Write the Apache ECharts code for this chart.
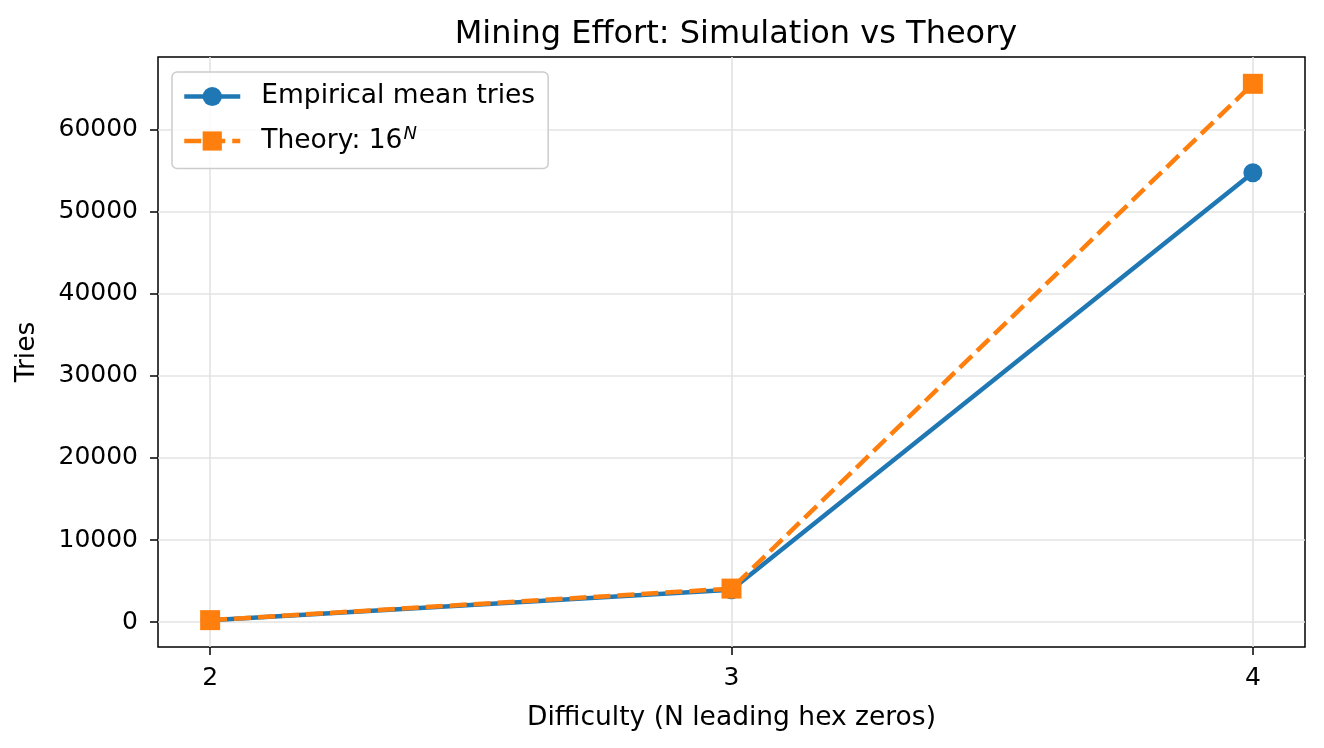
<!DOCTYPE html>
<html><head><meta charset="utf-8">
<script src="https://cdn.jsdelivr.net/npm/echarts@6/dist/echarts.min.js"></script>
<style>html,body{margin:0;padding:0;background:#fff}#c{width:1324px;height:748px}</style>
</head><body><div id="c"></div>
<script>
const difficulty = [2, 3, 4];
const empirical = [250, 3950, 54720];
const theory = [256, 4096, 65536];
const xTicks = [2, 3, 4];
const yTicks = [0, 10000, 20000, 30000, 40000, 50000, 60000];

const chart = echarts.init(document.getElementById('c'), null, {renderer: 'canvas'});
const font = 'DejaVu Sans';
chart.setOption({
  animation: false,
  backgroundColor: '#fff',
  title: {text: 'Mining Effort: Simulation vs Theory', left: 731, top: 14, textAlign: 'center',
    textStyle: {fontFamily: font, fontSize: 32, fontWeight: 'normal', color: '#000'}},
  grid: {left: 158, right: 19, top: 57, bottom: 101, show: true, borderColor: '#000', borderWidth: 1.5, containLabel: false},
  legend: {
    left: 172, top: 72, orient: 'vertical', padding: [11, 13, 14, 10], itemGap: 15,
    itemWidth: 56, itemHeight: 24,
    lineStyle: {width: 4.5},
    backgroundColor: 'rgba(255,255,255,0.8)', borderColor: '#cccccc', borderWidth: 1.5, borderRadius: 5,
    textStyle: {fontFamily: font, fontSize: 26.5, color: '#000', padding: [0, 0, 0, 16],
      rich: {sup: {fontFamily: font, fontSize: 18, fontStyle: 'italic', verticalAlign: 'top', padding: [0, 0, 14, 1]}}},
    formatter: n => n === 'Theory' ? 'Theory: 16{sup|N}' : n,
    data: ['Empirical mean tries', 'Theory']
  },
  xAxis: {
    type: 'value', min: 1.9, max: 4.1,
    name: 'Difficulty (N leading hex zeros)', nameLocation: 'middle', nameGap: 58,
    nameTextStyle: {fontFamily: font, fontSize: 26.5, color: '#000'},
    axisLine: {show: false, onZero: false},
    axisTick: {show: true, inside: false, customValues: xTicks, length: 8, lineStyle: {color: '#000', width: 1.5}},
    axisLabel: {customValues: xTicks, fontFamily: font, fontSize: 25, color: '#000', margin: 19},
    splitLine: {show: true, lineStyle: {color: '#e3e3e3', width: 1.6}}
  },
  yAxis: {
    type: 'value', min: -3014, max: 68800,
    name: 'Tries', nameLocation: 'middle', nameGap: 117, nameRotate: 90,
    nameTextStyle: {fontFamily: font, fontSize: 26.5, color: '#000'},
    axisLine: {show: false, onZero: false},
    axisTick: {show: true, inside: false, customValues: yTicks, length: 8, lineStyle: {color: '#000', width: 1.5}},
    axisLabel: {customValues: yTicks, formatter: v => String(v), fontFamily: font, fontSize: 25, color: '#000', margin: 20},
    splitLine: {show: true, lineStyle: {color: '#e3e3e3', width: 1.6}}
  },
  series: [
    {name: 'Empirical mean tries', type: 'line', data: difficulty.map((d, i) => [d, empirical[i]]),
      color: '#1f77b4', symbol: 'circle', symbolSize: 19, lineStyle: {width: 4.5, color: '#1f77b4'},
      itemStyle: {color: '#1f77b4'}, z: 2},
    {name: 'Theory', type: 'line', data: difficulty.map((d, i) => [d, theory[i]]),
      color: '#ff7f0e', symbol: 'rect', symbolSize: 20, lineStyle: {width: 4.5, color: '#ff7f0e', type: [17, 7]},
      itemStyle: {color: '#ff7f0e'}, z: 3}
  ]
});
</script></body></html>
